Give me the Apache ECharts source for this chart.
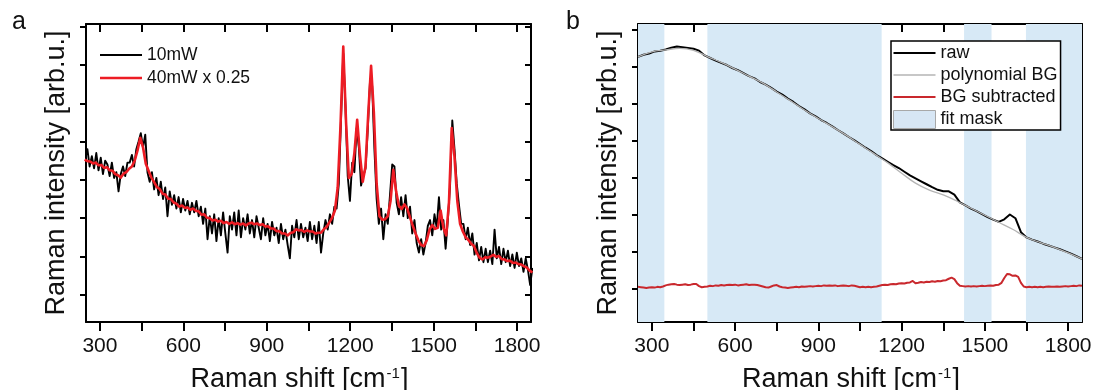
<!DOCTYPE html>
<html><head><meta charset="utf-8">
<script src="https://cdn.jsdelivr.net/npm/echarts@6/dist/echarts.min.js"></script>
<style>html,body{margin:0;padding:0;background:#fff}#c{width:1094px;height:390px}</style>
</head><body><div id="c"></div>
<script>
const FONT = '"Liberation Sans", Arial, Helvetica, sans-serif';
const TXT = '#111';

// ---- shared axes ----
const shiftMin = 250, shiftMax = 1850;
const shiftTicks = [300, 450, 600, 750, 900, 1050, 1200, 1350, 1500, 1650, 1800];
const shiftLabels = [300, 600, 900, 1200, 1500, 1800];
const intensityTicks = [1, 2, 3, 4, 5, 6, 7, 8];
const aIntensityRange = [0.288, 8.07];
const bIntensityRange = [0.088, 8.162];

// ---- panel a: 10 mW (black), sampled from 247 cm-1 every 8 cm-1 ----
const a10mWStart = 247, a10mWStep = 8;
const a10mW = [
  4.55, 4.80, 4.35, 4.62, 4.30, 4.70, 4.25, 4.58, 4.15, 4.50,
  4.40, 4.10, 4.45, 4.05, 4.20, 3.70, 4.15, 4.35, 4.10, 4.45,
  4.45, 4.65, 4.35, 4.80, 5.00, 5.22, 4.85, 5.18, 4.20, 3.95,
  4.20, 3.75, 4.05, 3.60, 3.95, 3.50, 3.80, 3.05, 3.70, 3.35,
  3.60, 3.25, 3.55, 3.15, 3.50, 3.20, 3.45, 3.10, 3.40, 3.15,
  3.45, 3.05, 3.30, 2.85, 3.25, 2.45, 3.05, 2.60, 3.10, 2.40,
  3.00, 2.55, 3.15, 2.60, 2.10, 3.05, 2.70, 3.15, 2.55, 3.20,
  2.50, 3.00, 2.70, 3.10, 2.60, 2.95, 2.50, 3.05, 2.75, 2.45,
  3.00, 2.55, 2.85, 2.40, 2.90, 2.55, 2.75, 2.35, 2.85, 2.45,
  2.70, 2.30, 1.95, 2.80, 2.50, 2.95, 2.45, 2.85, 2.50, 2.75,
  2.40, 2.90, 2.45, 2.80, 2.35, 2.90, 2.10, 2.60, 2.95, 2.70,
  3.10, 2.85, 3.30, 3.25, 3.90, 5.60, 7.30, 5.90, 4.10, 3.45,
  4.45, 4.20, 5.35, 4.85, 3.85, 4.10, 4.30, 5.30, 6.55, 6.45,
  4.80, 3.50, 2.85, 3.25, 2.45, 3.10, 2.85, 3.60, 4.40, 4.35,
  3.40, 3.10, 3.55, 3.05, 3.60, 3.00, 3.30, 2.60, 2.95, 2.35,
  2.10, 2.45, 2.05, 2.35, 2.80, 2.95, 2.55, 3.10, 2.75, 3.55,
  2.70, 2.95, 2.20, 2.95, 3.85, 5.55, 4.80, 3.90, 3.35, 2.85,
  2.85, 2.45, 2.75, 2.30, 2.60, 2.05, 2.35, 1.90, 2.25, 1.85,
  2.20, 1.85, 2.15, 1.80, 2.70, 1.95, 2.25, 1.80, 2.20, 1.85,
  2.15, 1.75, 2.05, 1.70, 2.10, 1.75, 1.95, 1.60, 1.95, 1.65,
  1.25, 1.70
];

// ---- panel a: 40 mW x 0.25 (red), sampled from 245 cm-1 every 10 cm-1 ----
const a40mWStart = 245, a40mWStep = 10;
const a40mW = [
  4.53, 4.49, 4.48, 4.43, 4.45, 4.38, 4.39, 4.31, 4.33, 4.25,
  4.24, 4.15, 4.12, 4.06, 4.16, 4.20, 4.29, 4.35, 4.50, 4.76,
  5.10, 4.85, 4.42, 4.24, 4.06, 3.94, 3.81, 3.76, 3.64, 3.62,
  3.51, 3.50, 3.41, 3.38, 3.30, 3.33, 3.27, 3.28, 3.22, 3.25,
  3.19, 3.18, 3.09, 3.10, 3.01, 3.00, 2.94, 2.96, 2.91, 2.93,
  2.87, 2.90, 2.85, 2.89, 2.84, 2.87, 2.83, 2.86, 2.81, 2.86,
  2.88, 2.84, 2.86, 2.82, 2.84, 2.78, 2.79, 2.73, 2.73, 2.66,
  2.66, 2.60, 2.60, 2.55, 2.61, 2.63, 2.71, 2.68, 2.69, 2.64,
  2.68, 2.65, 2.65, 2.60, 2.62, 2.62, 2.71, 2.77, 2.89, 3.01,
  3.20, 3.80, 5.40, 7.48, 5.50, 4.05, 4.15, 4.70, 5.57, 4.65,
  3.95, 4.35, 5.75, 6.98, 5.75, 3.90, 3.05, 2.96, 2.97, 3.05,
  3.45, 4.26, 3.70, 3.32, 3.24, 3.36, 3.25, 3.02, 2.80, 2.60,
  2.42, 2.30, 2.27, 2.42, 2.70, 2.82, 2.72, 2.75, 3.20, 2.75,
  2.55, 3.40, 5.35, 4.60, 3.45, 2.85, 2.65, 2.50, 2.43, 2.33,
  2.27, 2.09, 1.97, 1.92, 1.98, 1.97, 2.00, 2.04, 1.99, 2.01,
  1.93, 1.92, 1.88, 1.89, 1.83, 1.84, 1.80, 1.79, 1.74, 1.71,
  1.63, 1.58
];

// ---- panel b: raw spectrum, from 250 cm-1 every 20 cm-1 ----
const bRawStart = 250, bRawStep = 20;
const bRaw = [
  7.27, 7.33, 7.36, 7.42, 7.44, 7.47, 7.52, 7.55, 7.53, 7.51,
  7.49, 7.44, 7.31, 7.24, 7.17, 7.11, 7.05, 6.97, 6.91, 6.83,
  6.75, 6.69, 6.59, 6.52, 6.43, 6.33, 6.25, 6.14, 6.05, 5.94,
  5.85, 5.74, 5.66, 5.56, 5.48, 5.39, 5.29, 5.20, 5.10, 5.01,
  4.91, 4.81, 4.72, 4.61, 4.52, 4.43, 4.34, 4.26, 4.16, 4.06,
  3.98, 3.90, 3.82, 3.74, 3.67, 3.63, 3.63, 3.54, 3.33, 3.25,
  3.16, 3.09, 3.01, 2.93, 2.86, 2.80, 2.87, 3.00, 2.90, 2.52,
  2.38, 2.32, 2.27, 2.21, 2.16, 2.11, 2.06, 2.00, 1.94, 1.87,
  1.80
];

// ---- panel b: polynomial background, from 250 cm-1 every 50 cm-1 ----
const bBgStart = 250, bBgStep = 50;
const bBg = [
  7.27, 7.41, 7.46, 7.50, 7.45, 7.28, 7.12, 6.94, 6.75, 6.56,
  6.32, 6.08, 5.83, 5.60, 5.38, 5.15, 4.90, 4.65, 4.40, 4.12,
  3.85, 3.66, 3.53, 3.36, 3.17, 2.98, 2.79, 2.60, 2.38, 2.24,
  2.11, 1.96, 1.80
];

// ---- panel b: background subtracted, from 250 cm-1 every 10 cm-1 ----
const bSubStart = 250, bSubStep = 10;
const bSub = [
  1.04, 1.03, 1.02, 1.01, 1.02, 1.03, 1.02, 1.04, 1.03, 1.05,
  1.08, 1.10, 1.11, 1.12, 1.10, 1.09, 1.10, 1.11, 1.09, 1.10,
  1.12, 1.12, 1.06, 1.03, 1.04, 1.05, 1.07, 1.06, 1.08, 1.07,
  1.09, 1.08, 1.09, 1.10, 1.09, 1.10, 1.08, 1.09, 1.10, 1.11,
  1.09, 1.10, 1.10, 1.09, 1.07, 1.05, 1.03, 1.02, 1.05, 1.08,
  1.09, 1.05, 1.03, 1.02, 1.01, 1.02, 1.03, 1.04, 1.03, 1.05,
  1.04, 1.05, 1.06, 1.05, 1.06, 1.07, 1.06, 1.08, 1.07, 1.08,
  1.07, 1.08, 1.06, 1.07, 1.08, 1.07, 1.06, 1.08, 1.07, 1.05,
  1.03, 1.04, 1.03, 1.04, 1.03, 1.04, 1.05, 1.07, 1.09, 1.10,
  1.09, 1.11, 1.12, 1.11, 1.13, 1.14, 1.13, 1.15, 1.16, 1.20,
  1.14, 1.15, 1.17, 1.16, 1.18, 1.17, 1.19, 1.18, 1.20, 1.19,
  1.21, 1.22, 1.26, 1.29, 1.25, 1.14, 1.07, 1.06, 1.05, 1.06,
  1.05, 1.06, 1.05, 1.06, 1.07, 1.06, 1.07, 1.08, 1.07, 1.09,
  1.10, 1.15, 1.28, 1.39, 1.38, 1.34, 1.35, 1.31, 1.15, 1.05,
  1.03, 1.04, 1.03, 1.04, 1.03, 1.04, 1.03, 1.04, 1.05, 1.04,
  1.04, 1.05, 1.04, 1.05, 1.06, 1.05, 1.06, 1.07, 1.06, 1.08,
  1.07
];

// ---- panel b: fit mask regions ----
const maskStart = [250, 500, 1425, 1648];
const maskEnd   = [345, 1128, 1524, 1850];

function onGrid(start, step, values) {
  return values.map((v, i) => [start + i * step, v]);
}
function lineIcon(w) {
  return 'path://M0,0L42,0L42,' + w + 'L0,' + w + 'Z';
}

const chart = echarts.init(document.getElementById('c'), null, {renderer: 'canvas'});

function xBottom(grid) {
  return {
    type: 'value', gridIndex: grid, position: 'bottom', min: shiftMin, max: shiftMax,
    axisLine: {show: true, onZero: false, lineStyle: {color: '#000', width: 2}},
    axisTick: {show: true, inside: false, length: 9, lineStyle: {color: '#000', width: 2}, customValues: shiftTicks},
    axisLabel: {show: true, customValues: shiftLabels, fontSize: 21, color: TXT, fontFamily: FONT, margin: 14,
      formatter: v => String(v)},
    splitLine: {show: false},
    name: 'Raman shift [cm{sup|-1}]', nameLocation: 'middle', nameGap: 44,
    nameTextStyle: {fontSize: 27, color: TXT, fontFamily: FONT, padding: [0, 18, 0, 0],
      rich: {sup: {fontSize: 15, color: TXT, fontFamily: FONT, verticalAlign: 'top', padding: [0, 1, 12, 1]}}}
  };
}
function xTop(grid) {
  return {
    type: 'value', gridIndex: grid, position: 'top', min: shiftMin, max: shiftMax,
    axisLine: {show: true, onZero: false, lineStyle: {color: '#000', width: 2}},
    axisTick: {show: true, inside: true, length: 8, lineStyle: {color: '#000', width: 2}, customValues: shiftTicks},
    axisLabel: {show: false}, splitLine: {show: false}
  };
}
function yLeft(grid, range) {
  return {
    type: 'value', gridIndex: grid, position: 'left', min: range[0], max: range[1],
    axisLine: {show: true, onZero: false, lineStyle: {color: '#000', width: 2}},
    axisTick: {show: true, inside: false, length: 6, lineStyle: {color: '#000', width: 2}, customValues: intensityTicks},
    axisLabel: {show: false}, splitLine: {show: false},
    name: 'Raman intensity [arb.u.]', nameLocation: 'middle', nameGap: 16, nameRotate: 90,
    nameTextStyle: {fontSize: 27, color: TXT, fontFamily: FONT}
  };
}
function yRight(grid, range) {
  return {
    type: 'value', gridIndex: grid, position: 'right', min: range[0], max: range[1],
    axisLine: {show: true, onZero: false, lineStyle: {color: '#000', width: 2}},
    axisTick: {show: true, inside: true, length: 6, lineStyle: {color: '#000', width: 2}, customValues: intensityTicks},
    axisLabel: {show: false}, splitLine: {show: false}
  };
}

const option = {
  animation: false,
  backgroundColor: '#fff',
  title: [
    {text: 'a', left: 12, top: 10, padding: 0, textStyle: {fontSize: 25, fontWeight: 'normal', color: TXT, fontFamily: FONT}},
    {text: 'b', left: 566, top: 10, padding: 0, textStyle: {fontSize: 25, fontWeight: 'normal', color: TXT, fontFamily: FONT}}
  ],
  grid: [
    {left: 86, top: 24, width: 445, height: 298, containLabel: false, outerBoundsMode: 'none'},
    {left: 638, top: 24, width: 444, height: 298, containLabel: false, outerBoundsMode: 'none'}
  ],
  legend: [
    {
      orient: 'vertical', left: 100, top: 45, padding: 0, itemWidth: 42, itemHeight: 14, itemGap: 3,
      selectedMode: false, symbolKeepAspect: true,
      textStyle: {fontSize: 17.5, color: TXT, fontFamily: FONT, lineHeight: 20},
      data: [
        {name: '10mW', icon: lineIcon(2), itemStyle: {color: '#000'}},
        {name: '40mW x 0.25', icon: lineIcon(2.6), itemStyle: {color: '#ed1c24'}}
      ]
    },
    {
      orient: 'vertical', left: 891, top: 41, padding: [3, 3, 1, 2], itemWidth: 42, itemHeight: 18, itemGap: 4,
      borderColor: '#000', borderWidth: 1.5, backgroundColor: '#fff', selectedMode: false, symbolKeepAspect: true,
      textStyle: {fontSize: 18, color: TXT, fontFamily: FONT, lineHeight: 18},
      data: [
        {name: 'raw', icon: lineIcon(2.2), itemStyle: {color: '#000'}},
        {name: 'polynomial BG', icon: lineIcon(1.6), itemStyle: {color: '#b4b4b4'}},
        {name: 'BG subtracted', icon: lineIcon(2.2), itemStyle: {color: '#c9282d'}},
        {name: 'fit mask', icon: 'rect', itemStyle: {color: '#d7e6f4', borderColor: '#a8a8a8', borderWidth: 1}}
      ]
    }
  ],
  xAxis: [xBottom(0), xTop(0), xBottom(1), xTop(1)],
  yAxis: [yLeft(0, aIntensityRange), yRight(0, aIntensityRange), yLeft(1, bIntensityRange), yRight(1, bIntensityRange)],
  series: [
    {
      name: '10mW', type: 'line', xAxisIndex: 0, yAxisIndex: 0, symbol: 'none', z: 3,
      data: onGrid(a10mWStart, a10mWStep, a10mW),
      lineStyle: {color: '#000', width: 1.9, join: 'round'}, itemStyle: {color: '#000'}
    },
    {
      name: '40mW x 0.25', type: 'line', xAxisIndex: 0, yAxisIndex: 0, symbol: 'none', z: 4,
      data: onGrid(a40mWStart, a40mWStep, a40mW),
      lineStyle: {color: '#ed1c24', width: 2.6, join: 'round'}, itemStyle: {color: '#ed1c24'}
    },
    {
      name: 'fit mask', type: 'line', xAxisIndex: 2, yAxisIndex: 2, symbol: 'none', z: 1, data: [],
      itemStyle: {color: '#d7e9f6'},
      markArea: {silent: true, itemStyle: {color: '#d7e9f6'},
        data: maskStart.map((s, i) => [{xAxis: s}, {xAxis: maskEnd[i]}])}
    },
    {
      name: 'raw', type: 'line', xAxisIndex: 2, yAxisIndex: 2, symbol: 'none', z: 3,
      data: onGrid(bRawStart, bRawStep, bRaw),
      lineStyle: {color: '#000', width: 2, join: 'round'}, itemStyle: {color: '#000'}
    },
    {
      name: 'polynomial BG', type: 'line', xAxisIndex: 2, yAxisIndex: 2, symbol: 'none', z: 4, smooth: 0.4,
      data: onGrid(bBgStart, bBgStep, bBg),
      lineStyle: {color: '#b4b4b4', width: 1.3}, itemStyle: {color: '#b4b4b4'}
    },
    {
      name: 'BG subtracted', type: 'line', xAxisIndex: 2, yAxisIndex: 2, symbol: 'none', z: 5,
      data: onGrid(bSubStart, bSubStep, bSub),
      lineStyle: {color: '#c9282d', width: 2, join: 'round'}, itemStyle: {color: '#c9282d'}
    }
  ]
};
chart.setOption(option);
</script>
</body></html>
